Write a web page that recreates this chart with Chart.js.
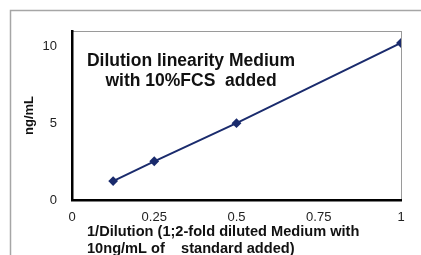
<!DOCTYPE html>
<html lang="en">
<head>
    <meta charset="UTF-8">
    <title>Dilution linearity</title>
    <style>
        body { margin: 0; background: #fff; }
        .wrap { position: relative; width: 421px; height: 255px; }
    </style>
</head>
<body>
<div class="wrap">
    <canvas id="myChart" width="421" height="255"></canvas>
</div>

<script src="https://cdn.jsdelivr.net/npm/chart.js"></script>
<script>
    // data
    const dilution = [0.125, 0.25, 0.5, 1];
    const conc = [1.23, 2.52, 5.0, 10.22];
    const xTicks = [0, 0.25, 0.5, 0.75, 1];
    const yTicks = [0, 5, 10];
    const titleLines = ['Dilution linearity Medium', 'with 10%FCS  added'];
    const xTitleLines = ['1/Dilution (1;2-fold diluted Medium with', '10ng/mL of    standard added)'];

    const FONT = 'Arial, "Liberation Sans", sans-serif';

    const decor = {
        id: 'decor',
        beforeDraw(chart) {
            const ctx = chart.ctx;
            const a = chart.chartArea;
            ctx.save();
            // outer frame
            ctx.strokeStyle = '#a6a6a6';
            ctx.lineWidth = 1.5;
            ctx.beginPath();
            ctx.moveTo(10.5, 255);
            ctx.lineTo(10.5, 10.5);
            ctx.lineTo(421, 10.5);
            ctx.stroke();
            // plot box (top/right gray)
            ctx.strokeStyle = '#9a9a9a';
            ctx.lineWidth = 1;
            ctx.strokeRect(a.left + 0.5, a.top + 0.5, a.right - a.left, a.bottom - a.top);
            ctx.restore();
        },
        afterDraw(chart) {
            const ctx = chart.ctx;
            ctx.save();
            ctx.fillStyle = '#111';
            ctx.font = 'bold 17.5px ' + FONT;
            ctx.textAlign = 'center';
            ctx.textBaseline = 'middle';
            ctx.fillText(titleLines[0], 191, 61);
            ctx.fillText(titleLines[1], 191, 81);
            ctx.font = 'bold 14.6px ' + FONT;
            ctx.textAlign = 'left';
            ctx.fillText(xTitleLines[0], 87, 232);
            ctx.fillText(xTitleLines[1], 87, 249);
            ctx.restore();
        }
    };

    new Chart(document.getElementById('myChart'), {
        type: 'scatter',
        data: {
            datasets: [{
                data: dilution.map((x, i) => ({ x: x, y: conc[i] })),
                showLine: true,
                borderColor: '#1a2b6d',
                backgroundColor: '#1a2b6d',
                borderWidth: 2,
                pointStyle: 'rectRot',
                pointRadius: 3.5,
                tension: 0
            }]
        },
        plugins: [decor],
        options: {
            responsive: false,
            animation: false,
            layout: { padding: { top: 31, right: 20, left: 0, bottom: 0 } },
            plugins: { legend: { display: false }, tooltip: { enabled: false } },
            scales: {
                x: {
                    type: 'linear',
                    min: 0, max: 1,
                    afterBuildTicks: s => { s.ticks = xTicks.map(v => ({ value: v })); },
                    afterFit: s => { s.height = 55; },
                    grid: { display: false, drawTicks: false },
                    border: { color: '#000', width: 2.5 },
                    ticks: { padding: 10, color: '#222', font: { family: FONT, size: 13 }, callback: v => String(v) }
                },
                y: {
                    type: 'linear',
                    min: 0, max: 11,
                    afterBuildTicks: s => { s.ticks = yTicks.map(v => ({ value: v })); },
                    afterFit: s => { s.width = 72; },
                    grid: { display: false, drawTicks: false },
                    border: { color: '#000', width: 2.5 },
                    ticks: { padding: 15, color: '#222', font: { family: FONT, size: 13 }, callback: v => String(v) },
                    title: { display: true, text: 'ng/mL', color: '#111', padding: { top: 22, bottom: 0 }, font: { family: FONT, size: 13, weight: 'bold' } }
                }
            }
        }
    });
</script>
</body>
</html>
